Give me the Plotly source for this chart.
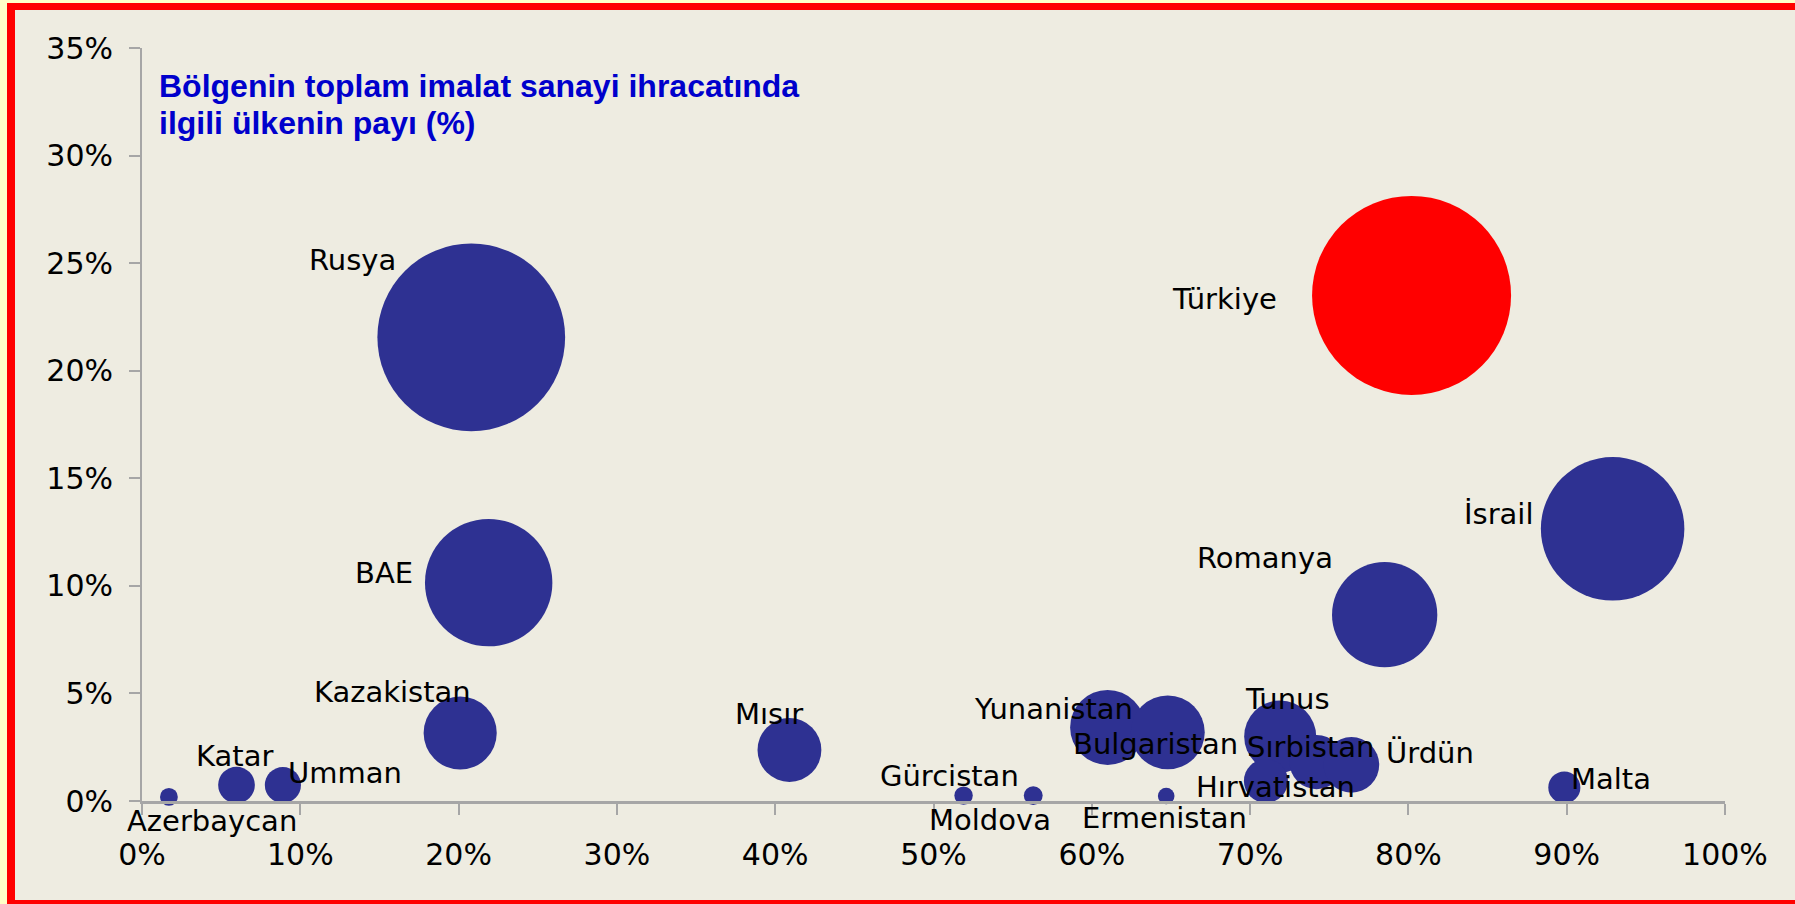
import plotly.graph_objects as go

# ---------------- data ----------------
countries = ["Rusya", "Türkiye", "İsrail", "BAE", "Romanya", "Kazakistan", "Mısır",
             "Yunanistan", "Bulgaristan", "Tunus", "Sırbistan", "Ürdün", "Hırvatistan",
             "Malta", "Katar", "Umman", "Azerbaycan", "Gürcistan", "Moldova", "Ermenistan"]
# x: share (x-axis), y: share of region's total manufacturing exports
x_vals = [0.208, 0.802, 0.929, 0.219, 0.785, 0.201, 0.409,
          0.610, 0.648, 0.719, 0.742, 0.764, 0.710,
          0.8985, 0.0597, 0.089, 0.017, 0.519, 0.563, 0.647]
y_vals = [0.2155, 0.235, 0.1265, 0.1015, 0.0866, 0.0316, 0.0237,
          0.0342, 0.0319, 0.0300, 0.0181, 0.0168, 0.0093,
          0.0063, 0.0074, 0.0074, 0.0019, 0.0025, 0.0025, 0.0023]
# bubble size (relative export volume, area-proportional)
size_vals = [89, 100, 52, 41, 28, 13.5, 10.3,
             14.2, 13.8, 13.1, 7.4, 7.8, 4.9,
             2.6, 3.4, 3.3, 0.8, 0.86, 0.9, 0.7]

x_tickvals = [0, 0.1, 0.2, 0.3, 0.4, 0.5, 0.6, 0.7, 0.8, 0.9, 1.0]
x_ticktext = ["0%", "10%", "20%", "30%", "40%", "50%", "60%", "70%", "80%", "90%", "100%"]
y_tickvals = [0, 0.05, 0.10, 0.15, 0.20, 0.25, 0.30, 0.35]
y_ticktext = ["0%", "5%", "10%", "15%", "20%", "25%", "30%", "35%"]

title_lines = ["Bölgenin toplam imalat sanayi ihracatında", "ilgili ülkenin payı (%)"]

# ---------------- style ----------------
# label offsets (pixels, dx right, dy down) relative to bubble centres
label_offsets = {
    "Rusya": (-119, -77), "Türkiye": (-187, 4), "İsrail": (-114, -15), "BAE": (-105, -10),
    "Romanya": (-120, -57), "Kazakistan": (-68, -41), "Mısır": (-20, -36),
    "Yunanistan": (-54, -18), "Bulgaristan": (-12, 12), "Tunus": (7, -37),
    "Sırbistan": (-6, -15), "Ürdün": (79, -12), "Hırvatistan": (10, 6),
    "Malta": (47, -8), "Katar": (-2, -29), "Umman": (62, -12),
    "Azerbaycan": (43, 24), "Gürcistan": (-14, -20), "Moldova": (-43, 24),
    "Ermenistan": (-2, 22),
}
NAVY = "#2E3192"
HIGHLIGHT = "#FF0000"
BG = "#EEECE1"
AXIS = "#A6A6A6"

W_FIG, H_FIG = 1795, 904
L, R, T, B = 142, 70, 48, 103
PW = W_FIG - L - R
PH = H_FIG - T - B


def px2x(px):
    return (px - L) / PW


def py2y(py):
    return (H_FIG - B - py) / PH


max_diam = 199
sizeref = 2.0 * max(size_vals) / (max_diam ** 2)
colors = [HIGHLIGHT if c == "Türkiye" else NAVY for c in countries]

fig = go.Figure()
fig.add_trace(go.Scatter(
    x=x_vals, y=y_vals, mode="markers",
    marker=dict(size=size_vals, sizemode="area", sizeref=sizeref, color=colors,
                opacity=1, line=dict(width=0)),
    cliponaxis=False, hoverinfo="text", text=countries, showlegend=False,
))

annotations = []
for c, xv, yv in zip(countries, x_vals, y_vals):
    dx, dy = label_offsets[c]
    annotations.append(dict(
        x=xv, y=yv, xref="x", yref="y", text=c, showarrow=False,
        xanchor="center", yanchor="middle", xshift=dx, yshift=-dy,
        font=dict(family="DejaVu Sans", size=29, color="black"),
    ))

for i, line in enumerate(title_lines):
    annotations.append(dict(
        x=px2x(157), y=py2y(66 + i * 37), xref="paper", yref="paper", text="<b>" + line + "</b>",
        showarrow=False, xanchor="left", yanchor="top",
        font=dict(family="Liberation Sans, Arial", size=32, color="#0000CC"),
    ))

# frame: yellow strip + red border
shapes = [
    dict(type="rect", xref="paper", yref="paper", x0=px2x(0), x1=px2x(7), y0=py2y(H_FIG), y1=py2y(0),
         fillcolor="#FFFFC8", line=dict(width=0), layer="below"),
    dict(type="rect", xref="paper", yref="paper", x0=px2x(0), x1=px2x(W_FIG), y0=py2y(3), y1=py2y(0),
         fillcolor="#FFFFC8", line=dict(width=0), layer="below"),
    dict(type="rect", xref="paper", yref="paper", x0=px2x(7), x1=px2x(W_FIG), y0=py2y(10), y1=py2y(3),
         fillcolor="#FF0000", line=dict(width=0), layer="below"),
    dict(type="rect", xref="paper", yref="paper", x0=px2x(7), x1=px2x(15), y0=py2y(H_FIG), y1=py2y(3),
         fillcolor="#FF0000", line=dict(width=0), layer="below"),
    dict(type="rect", xref="paper", yref="paper", x0=px2x(7), x1=px2x(W_FIG), y0=py2y(H_FIG), y1=py2y(900),
         fillcolor="#FF0000", line=dict(width=0), layer="below"),
]

tickfont = dict(family="DejaVu Sans", size=30, color="black")
fig.update_layout(
    width=W_FIG, height=H_FIG,
    margin=dict(l=L, r=R, t=T, b=B, pad=0),
    paper_bgcolor=BG, plot_bgcolor=BG,
    xaxis=dict(range=[0, 1], tickvals=x_tickvals, ticktext=x_ticktext, showgrid=False,
               zeroline=False, showline=True, linecolor=AXIS, linewidth=3,
               ticks="outside", ticklen=11, tickwidth=2, tickcolor=AXIS,
               tickfont=tickfont, ticklabelstandoff=14, fixedrange=True),
    yaxis=dict(range=[0, 0.35], tickvals=y_tickvals, ticktext=y_ticktext, showgrid=False,
               zeroline=False, showline=True, linecolor=AXIS, linewidth=2,
               ticks="outside", ticklen=11, tickwidth=2, tickcolor=AXIS,
               tickfont=tickfont, ticklabelstandoff=10, fixedrange=True),
    annotations=annotations,
    shapes=shapes,
    showlegend=False,
)

fig.write_html("out.html", config={"displayModeBar": False},
               post_script="document.body.style.margin='0';document.body.style.overflow='hidden';")
